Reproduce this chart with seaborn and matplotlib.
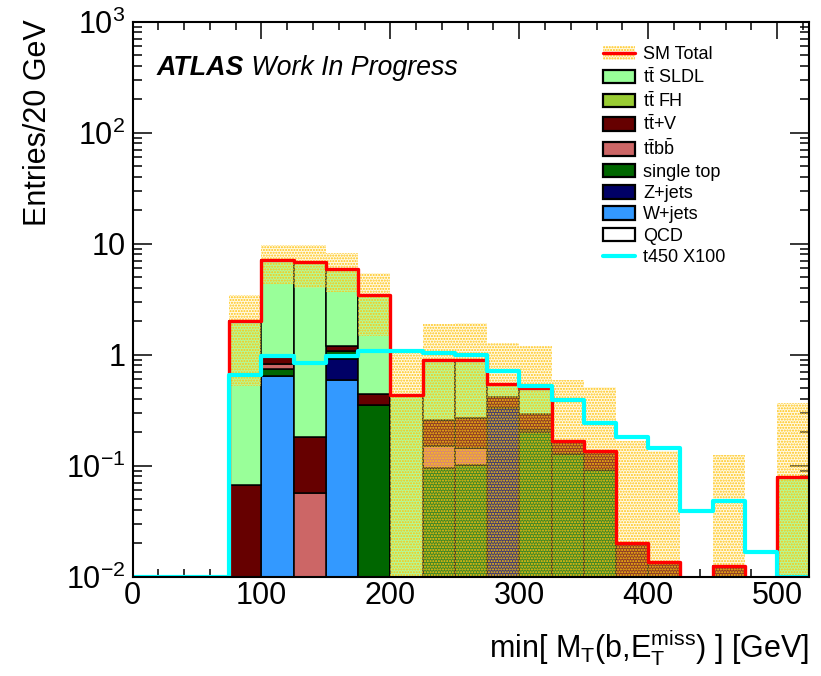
import numpy as np
import pandas as pd
import matplotlib
matplotlib.use("Agg")
import matplotlib.pyplot as plt
from matplotlib.patches import Patch
from matplotlib.lines import Line2D
from matplotlib.ticker import MultipleLocator, FixedLocator, LogLocator, FuncFormatter, NullFormatter
import seaborn as sns

# 25 GeV bins from 0 to 525 GeV
bin_edges = list(range(0, 526, 25))
bin_centers = [0.5 * (a + b) for a, b in zip(bin_edges[:-1], bin_edges[1:])]

# Expected yields per bin for each background process
ttbar_sldl = [0, 0, 0, 1.93, 6.12, 6.72, 4.71, 3.02, 0.436, 0.64, 0.63, 0.125, 0.21,
              0, 0, 0, 0, 0, 0, 0, 0.079]
ttbar_fh = [0] * 21
ttbar_v = [0, 0, 0, 0.0675, 0.126, 0.124, 0.14, 0.091, 0, 0.111, 0.126, 0.09, 0.08,
           0.038, 0.043, 0.0201, 0.0135, 0, 0.0126, 0, 0]
ttbar_bb = [0, 0, 0, 0, 0.077, 0.0567, 0, 0, 0, 0.054, 0.042, 0, 0.01,
            0, 0, 0, 0, 0, 0, 0, 0]
single_top = [0, 0, 0, 0, 0.105, 0, 0.156, 0.355, 0, 0.095, 0.102, 0, 0.20,
              0.128, 0.092, 0, 0, 0, 0, 0, 0]
z_jets = [0, 0, 0, 0, 0, 0, 0.327, 0, 0, 0, 0, 0.33, 0,
          0, 0, 0, 0, 0, 0, 0, 0]
w_jets = [0, 0, 0, 0, 0.638, 0, 0.587, 0, 0, 0, 0, 0, 0,
          0, 0, 0, 0, 0, 0, 0, 0]
qcd = [0] * 21

# Absolute uncertainty on the SM total
sm_total_err = [0, 0, 0, 1.47, 2.73, 2.9, 2.28, 1.98, 0.6, 1.0, 1.05, 0.725, 0.69,
                0.42, 0.375, 0.146, 0.1215, 0, 0.113, 0, 0.288]

# Signal (t450), scaled by 100
signal_t450_x100 = [0, 0, 0, 0.66, 0.98, 0.84, 0.97, 1.09, 1.09, 1.04, 1.0, 0.72, 0.526,
                    0.387, 0.24, 0.181, 0.144, 0.0387, 0.0476, 0.0167, 0]

# stacking order: first entry ends up on top of the stack
processes = {
    "ttbar SLDL": ttbar_sldl,
    "ttbar FH": ttbar_fh,
    "ttbar+V": ttbar_v,
    "ttbb": ttbar_bb,
    "single top": single_top,
    "Z+jets": z_jets,
    "W+jets": w_jets,
    "QCD": qcd,
}
colors = {
    "ttbar SLDL": "#99FF99",
    "ttbar FH": "#99CC33",
    "ttbar+V": "#660000",
    "ttbb": "#CC6666",
    "single top": "#006600",
    "Z+jets": "#000066",
    "W+jets": "#3399FF",
    "QCD": "#FFFFFF",
}
legend_labels = {
    "ttbar SLDL": r"t$\bar{\mathrm{t}}$ SLDL",
    "ttbar FH": r"t$\bar{\mathrm{t}}$ FH",
    "ttbar+V": r"t$\bar{\mathrm{t}}$+V",
    "ttbb": r"t$\bar{\mathrm{t}}$b$\bar{\mathrm{b}}$",
    "single top": "single top",
    "Z+jets": "Z+jets",
    "W+jets": "W+jets",
    "QCD": "QCD",
}

rows = []
for name, vals in processes.items():
    for xc, w in zip(bin_centers, vals):
        rows.append({"mt": xc, "yield": w, "process": name})
df = pd.DataFrame(rows)

edges_arr = np.asarray(bin_edges, float)
sm_total = np.sum([np.asarray(v, float) for v in processes.values()], axis=0)
err = np.asarray(sm_total_err, float)

sns.set_style("ticks")
plt.rcParams["font.family"] = ["Liberation Sans", "DejaVu Sans"]
plt.rcParams["mathtext.fontset"] = "custom"
plt.rcParams["mathtext.rm"] = "Liberation Sans"
plt.rcParams["mathtext.it"] = "Liberation Sans:italic"
plt.rcParams["mathtext.bf"] = "Liberation Sans:bold"
plt.rcParams["hatch.color"] = "#FFC20E"
plt.rcParams["hatch.linewidth"] = 1.0
for key in ("text.color", "axes.labelcolor", "xtick.color", "ytick.color",
            "xtick.labelcolor", "ytick.labelcolor"):
    plt.rcParams[key] = "black"

fig = plt.figure(figsize=(8.21, 6.76), dpi=100)
ax = fig.add_axes([0.1614, 0.1469, 0.9858 - 0.1614, 0.9679 - 0.1469])
ax.set_yscale("log")
ymin, ymax = 0.01, 1000

sns.histplot(data=df, x="mt", weights="yield", hue="process",
             hue_order=list(processes.keys()), palette=colors,
             multiple="stack", bins=bin_edges, element="bars", alpha=1,
             edgecolor="black", linewidth=1.1, legend=False, ax=ax)

# uncertainty band on the SM total
band_face = (1.0, 0.93, 0.6, 0.25)
band_hi = np.maximum(sm_total + err, 1e-4)
band_lo = np.maximum(sm_total - err, 1e-4)
band_lo = np.where(err > 0, band_lo, band_hi)
ax.stairs(band_hi, edges_arr, baseline=band_lo, fill=True, facecolor=band_face,
          edgecolor="#FFC20E", linewidth=0, hatch="......", zorder=3)

sns.histplot(x=bin_centers, weights=sm_total, bins=bin_edges, element="step",
             fill=False, color="red", linewidth=2.4, ax=ax, zorder=4)
sns.histplot(x=bin_centers, weights=np.clip(signal_t450_x100, ymin, None), bins=bin_edges,
             element="step", fill=False, color="#00FFFF", linewidth=3, ax=ax, zorder=5)

ax.set_xlim(0, 525)
ax.set_ylim(ymin, ymax)

ax.xaxis.set_major_locator(MultipleLocator(100))
ax.xaxis.set_minor_locator(MultipleLocator(20))
ax.yaxis.set_major_locator(FixedLocator([1e-2, 1e-1, 1, 10, 1e2, 1e3]))
ax.yaxis.set_minor_locator(LogLocator(base=10, subs=np.arange(2, 10)))
ax.yaxis.set_minor_formatter(NullFormatter())
ylab = {1e-2: r"$10^{-2}$", 1e-1: r"$10^{-1}$", 1: "1", 10: "10",
        1e2: r"$10^{2}$", 1e3: r"$10^{3}$"}
ax.yaxis.set_major_formatter(FuncFormatter(
    lambda v, p: min(ylab.items(), key=lambda kv: abs(np.log10(kv[0]) - np.log10(v)))[1]))

ax.tick_params(axis="both", which="both", direction="in", top=True, right=True,
               labelsize=22, width=1.1, color="black", labelcolor="black")
ax.tick_params(axis="x", which="major", length=12, pad=3)
ax.tick_params(axis="x", which="minor", length=6)
ax.tick_params(axis="y", which="major", length=14, pad=5)
ax.tick_params(axis="y", which="minor", length=6.5)
for sp in ax.spines.values():
    sp.set_linewidth(1.5)
    sp.set_color("black")
    sp.set_zorder(10)

ax.set_xlabel(r"min[ M$_{\mathrm{T}}$(b,E$_{\mathrm{T}}^{\mathrm{miss}}$) ] [GeV]",
              fontsize=22, loc="right", color="black")
ax.xaxis.set_label_coords(1.0, -0.092)
ax.set_ylabel("Entries/20 GeV", fontsize=22, loc="top", color="black")
ax.yaxis.set_label_coords(-0.117, 1.005)

t1 = ax.text(0.036, 0.904, "ATLAS", transform=ax.transAxes, fontsize=19.3,
             fontweight="bold", fontstyle="italic", va="baseline", color="black")
ax.annotate(" Work In Progress", xy=(1, 0), xycoords=t1, fontsize=19.3,
            fontstyle="italic", va="bottom", ha="left", color="black")

handles = [(Patch(facecolor=band_face, edgecolor="#FFC20E", linewidth=0, hatch="......"),
            Line2D([], [], color="red", linewidth=2.4))]
labels = ["SM Total"]
for name in processes:
    handles.append(Patch(facecolor=colors[name], edgecolor="black", linewidth=1.6))
    labels.append(legend_labels[name])
handles.append(Line2D([], [], color="#00FFFF", linewidth=3))
labels.append("t450 X100")
leg = ax.legend(handles, labels, loc="upper left", bbox_to_anchor=(603 / 821, 1 - 46 / 676),
                bbox_transform=fig.transFigure, frameon=False, fontsize=13,
                handlelength=1.78, handleheight=0.78, handletextpad=0.45,
                labelspacing=0.24, borderpad=0, borderaxespad=0)
for txt in leg.get_texts():
    txt.set_color("black")

fig.savefig("out.png", dpi=100)
